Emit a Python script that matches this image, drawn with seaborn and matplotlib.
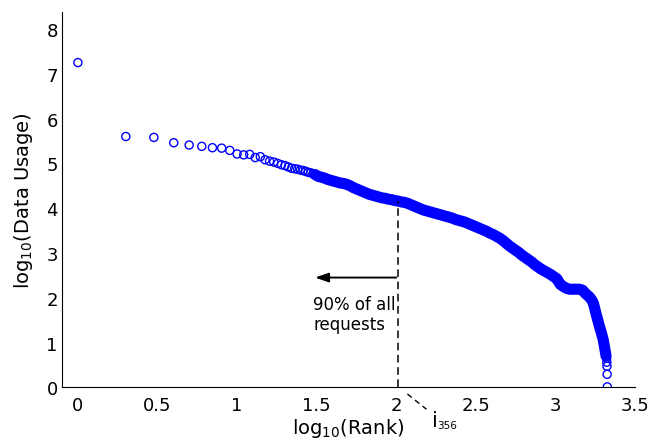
import matplotlib
matplotlib.use("Agg")
import matplotlib.pyplot as plt
import seaborn as sns
import numpy as np

# ---- data (log10 values) ----
# top-ranked items, drawn as separate circles
top_rank = [1, 2, 3, 4, 5, 6, 7, 8, 9, 10,
            11, 12, 13, 14, 15, 16, 17, 18, 19, 20,
            21, 22, 23, 24, 25, 26, 27, 28, 29, 30]
top_log_usage = [7.25, 5.60, 5.58, 5.46, 5.41, 5.38, 5.35, 5.34, 5.29, 5.21,
                 5.19, 5.20, 5.13, 5.15, 5.08, 5.05, 5.03, 5.00, 4.97, 4.95,
                 4.92, 4.89, 4.88, 4.87, 4.85, 4.84, 4.82, 4.80, 4.79, 4.77]

# dense band of the remaining ranks (log10 rank, log10 usage)
band_log_rank = [1.49, 1.51, 1.53, 1.55, 1.57, 1.59, 1.61, 1.63, 1.65, 1.67,
                 1.69, 1.71, 1.73, 1.75, 1.77, 1.79, 1.81, 1.83, 1.85, 1.87,
                 1.89, 1.91, 1.93, 1.95, 1.97, 1.99, 2.01, 2.03, 2.05, 2.07,
                 2.09, 2.11, 2.13, 2.15, 2.17, 2.19, 2.21, 2.23, 2.25, 2.27,
                 2.29, 2.31, 2.33, 2.35, 2.37, 2.39, 2.41, 2.43, 2.45, 2.47,
                 2.49, 2.51, 2.53, 2.55, 2.57, 2.59, 2.61, 2.63, 2.65, 2.67,
                 2.69, 2.71, 2.73, 2.75, 2.77, 2.79, 2.81, 2.83, 2.85, 2.87,
                 2.89, 2.91, 2.93, 2.95, 2.97, 2.99, 3.01, 3.02, 3.03, 3.05,
                 3.07, 3.09, 3.11, 3.13, 3.15, 3.17, 3.18, 3.19, 3.20, 3.21,
                 3.22, 3.23, 3.24, 3.25, 3.26, 3.27, 3.28, 3.29, 3.30, 3.305,
                 3.31, 3.315, 3.318]
band_log_usage = [4.75, 4.71, 4.69, 4.67, 4.64, 4.62, 4.60, 4.58, 4.56, 4.55,
                  4.53, 4.50, 4.46, 4.43, 4.40, 4.37, 4.34, 4.31, 4.29, 4.27,
                  4.25, 4.23, 4.22, 4.20, 4.19, 4.17, 4.16, 4.14, 4.13, 4.11,
                  4.08, 4.05, 4.02, 3.99, 3.96, 3.94, 3.92, 3.90, 3.88, 3.86,
                  3.84, 3.82, 3.80, 3.78, 3.75, 3.73, 3.71, 3.69, 3.66, 3.63,
                  3.60, 3.57, 3.54, 3.51, 3.48, 3.44, 3.41, 3.37, 3.33, 3.28,
                  3.22, 3.16, 3.11, 3.06, 3.01, 2.95, 2.90, 2.85, 2.80, 2.74,
                  2.69, 2.64, 2.60, 2.56, 2.52, 2.47, 2.42, 2.36, 2.30, 2.25,
                  2.21, 2.19, 2.19, 2.19, 2.19, 2.17, 2.13, 2.09, 2.06, 2.03,
                  1.99, 1.94, 1.86, 1.72, 1.58, 1.45, 1.32, 1.20, 1.07, 0.97,
                  0.87, 0.77, 0.70]

# lowest-ranked items, separate circles at the bottom
tail_log_rank = [3.322, 3.323, 3.324, 3.325, 3.326]
tail_log_usage = [0.65, 0.56, 0.47, 0.29, 0.01]

x_ticks = [0, 0.5, 1, 1.5, 2, 2.5, 3, 3.5]
x_tick_labels = ["0", "0.5", "1", "1.5", "2", "2.5", "3", "3.5"]
y_ticks = [0, 1, 2, 3, 4, 5, 6, 7, 8]
y_tick_labels = ["0", "1", "2", "3", "4", "5", "6", "7", "8"]

# annotation anchors
cut_log_rank = 2.01
cut_log_usage = 4.15
arrow_y = 2.45
arrow_tip_x = 1.49

# ---- plotting ----
sns.set_style("white")
plt.rcParams["font.family"] = ["DejaVu Sans"]
plt.rcParams["mathtext.fontset"] = "dejavusans"
plt.rcParams["text.color"] = "black"
plt.rcParams["axes.labelcolor"] = "black"

top_x = list(np.log10(top_rank))

fig = plt.figure(figsize=(6.52, 4.39), dpi=100)
ax = fig.add_axes([0.0951, 0.1155, 0.8788, 0.8549])

blue = (0, 0, 1)
sns.lineplot(x=band_log_rank, y=band_log_usage, ax=ax, color=blue, lw=8.0,
             sort=False, estimator=None, solid_capstyle="round", zorder=2)
all_x = top_x + band_log_rank + tail_log_rank
all_y = top_log_usage + band_log_usage + tail_log_usage
ax.scatter(all_x, all_y, s=34, facecolors="none", edgecolors=blue,
           linewidths=1.0, zorder=3)

ax.set_xlim(-0.1, 3.5)
ax.set_ylim(0, 8.38)
ax.set_xticks(x_ticks)
ax.set_xticklabels(x_tick_labels)
ax.set_yticks(y_ticks)
ax.set_yticklabels(y_tick_labels)
ax.tick_params(direction="in", length=5, width=0.8, labelsize=13, colors="black")
ax.tick_params(axis="x", pad=6)
ax.tick_params(axis="y", pad=3)
for s in ["top", "right"]:
    ax.spines[s].set_visible(False)
for s in ["left", "bottom"]:
    ax.spines[s].set_color("black")
    ax.spines[s].set_linewidth(0.8)

ax.set_xlabel(r"log$_{10}$(Rank)", fontsize=14, color="black")
ax.xaxis.set_label_coords(0.5, -0.076)
ax.set_ylabel(r"log$_{10}$(Data Usage)", fontsize=14, color="black")
ax.yaxis.set_label_coords(-0.047, 0.5)

# dashed cut line
ax.plot([cut_log_rank, cut_log_rank], [0, cut_log_usage], color="black",
        lw=1.1, ls=(0, (5, 3)), zorder=4)
# arrow
ax.annotate("", xy=(arrow_tip_x, arrow_y), xytext=(cut_log_rank - 0.01, arrow_y),
            arrowprops=dict(arrowstyle="-|>,head_length=0.8,head_width=0.28",
                            color="black", lw=1.4, shrinkA=0, shrinkB=0))
ax.text(1.48, 2.06, "90% of all\nrequests", fontsize=12, ha="left", va="top",
        linespacing=1.15, color="black")
# pointer to i_356
ax.plot([2.07, 2.19], [-0.15, -0.49], color="black", lw=1.0,
        ls=(0, (4, 3)), clip_on=False)
ax.text(2.225, -0.86, "i", fontsize=15, ha="left", va="baseline", color="black")
ax.text(2.255, -0.90, "356", fontsize=7.5, ha="left", va="baseline", color="black")

fig.savefig("out.png", dpi=100)
